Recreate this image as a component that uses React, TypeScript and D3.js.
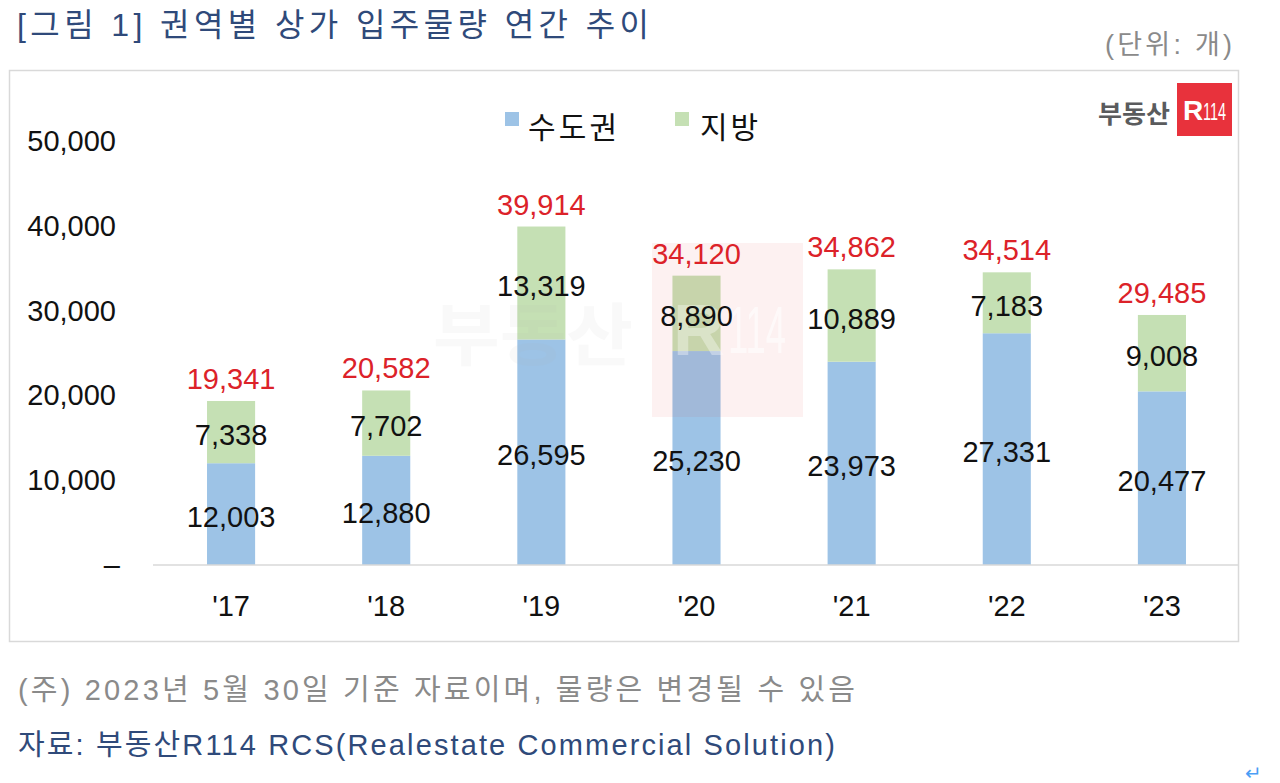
import React from "react";
import * as d3 from "d3";

const categories = ["'17", "'18", "'19", "'20", "'21", "'22", "'23"];
const metroValues = [12003, 12880, 26595, 25230, 23973, 27331, 20477];
const localValues = [7338, 7702, 13319, 8890, 10889, 7183, 9008];
const yTicks = [0, 10000, 20000, 30000, 40000, 50000];
const seriesNames = ["수도권", "지방"];

const BLUE = "#9dc3e6";
const GREEN = "#c5e0b4";
const RED = "#dc2229";
const FONT = "'Liberation Sans', 'Noto Sans CJK KR', sans-serif";

export default function App() {
  const W = 1280, H = 783;
  const x = d3.scaleBand<string>().domain(categories).range([153.5, 1239.5]).paddingInner(0.69).paddingOuter(0.345);
  const y = d3.scaleLinear().domain([0, 50000]).range([565, 141]);
  const fmt = d3.format(",");
  const totals = metroValues.map((m, i) => m + localValues[i]);
  const bw = x.bandwidth();

  return (
    <svg width={W} height={H} viewBox={`0 0 ${W} ${H}`} style={{ position: "absolute", left: 0, top: 0, background: "#fff" }} fontFamily={FONT}>
      <rect x={0} y={0} width={W} height={H} fill="#fff" />
      {/* Title */}
      <text x={17} y={25} dominantBaseline="central" fontSize={32} fill="#2f4a7a" textLength={632} lengthAdjust="spacing">[그림 1] 권역별 상가 입주물량 연간 추이</text>
      <text x={1105} y={45} dominantBaseline="central" fontSize={27} fill="#8a8a8a" textLength={127} lengthAdjust="spacing">(단위: 개)</text>

      {/* Frame */}
      <rect x={9.5} y={70.5} width={1229} height={571} fill="none" stroke="#d9d9d9" strokeWidth={1.5} />

      {/* Logo */}
      <text x={1134} y={112} textAnchor="middle" dominantBaseline="central" fontSize={25} fontWeight="bold" fill="#5a5b5d" fontFamily="'Noto Sans CJK KR', sans-serif" textLength={72} lengthAdjust="spacingAndGlyphs">부동산</text>
      <rect x={1177} y={83} width={55} height={53} fill="#e8323c" />
      <text x={1183} y={110} dominantBaseline="central" fontSize={28} fontWeight="bold" fill="#fff" fontFamily="'Liberation Sans', sans-serif">R</text>
      <text x={1203} y={111} dominantBaseline="central" fontSize={24} fill="#fff" fontFamily="'Liberation Sans Narrow', 'Liberation Sans', sans-serif" textLength={23} lengthAdjust="spacingAndGlyphs">114</text>

      {/* Legend */}
      <rect x={505} y={112} width={14} height={14} fill={BLUE} />
      <text x={528} y={127} dominantBaseline="central" fontSize={30} fill="#111" textLength={89} lengthAdjust="spacing">{seriesNames[0]}</text>
      <rect x={675} y={112} width={14} height={14} fill={GREEN} />
      <text x={700} y={127} dominantBaseline="central" fontSize={30} fill="#111" textLength={58} lengthAdjust="spacing">{seriesNames[1]}</text>

      {/* Y axis labels */}
      {yTicks.map((t) => (
        <text key={t} x={t === 0 ? 120 : 116} y={y(t)} textAnchor="end" dominantBaseline="central" fontSize={29} fill="#111">
          {t === 0 ? "–" : fmt(t)}
        </text>
      ))}

      {/* Bars */}
      {categories.map((c, i) => {
        const x0 = x(c)!;
        const m = metroValues[i];
        const l = localValues[i];
        return (
          <g key={c}>
            <rect x={x0} y={y(m)} width={bw} height={y(0) - y(m)} fill={BLUE} />
            <rect x={x0} y={y(m + l)} width={bw} height={y(m) - y(m + l)} fill={GREEN} />
          </g>
        );
      })}

      {/* Axis line */}
      <line x1={153} x2={1238} y1={y(0)} y2={y(0)} stroke="#d9d9d9" strokeWidth={1.5} />

      {/* Watermark */}
      <g pointerEvents="none">
        <text x={533} y={330} textAnchor="middle" dominantBaseline="central" fontSize={68} fontWeight="bold" fill="#b0b0b0" opacity={0.07} fontFamily="'Noto Sans CJK KR', sans-serif" textLength={200} lengthAdjust="spacingAndGlyphs">부동산</text>
        <rect x={652} y={243} width={151} height={174} fill="#e8323c" opacity={0.07} />
        <text x={673} y={330} dominantBaseline="central" fontSize={72} fontWeight="bold" fill="#fff" opacity={0.35} fontFamily="'Liberation Sans', sans-serif">R</text>
        <text x={728} y={330} dominantBaseline="central" fontSize={66} fill="#fff" opacity={0.6} fontFamily="'Liberation Sans', sans-serif" textLength={58} lengthAdjust="spacingAndGlyphs">114</text>
      </g>

      {/* Value labels */}
      {categories.map((c, i) => {
        const cx = x(c)! + bw / 2;
        const m = metroValues[i];
        const l = localValues[i];
        return (
          <g key={"lab" + c} fontSize={29}>
            <text x={cx} y={y(m / 2) + 3} textAnchor="middle" dominantBaseline="central" fill="#111">{fmt(m)}</text>
            <text x={cx} y={y(m + l / 2) + 3} textAnchor="middle" dominantBaseline="central" fill="#111">{fmt(l)}</text>
            <text x={cx} y={y(totals[i]) - 22} textAnchor="middle" dominantBaseline="central" fill={RED}>{fmt(totals[i])}</text>
          </g>
        );
      })}

      {/* X labels */}
      {categories.map((c) => (
        <text key={"x" + c} x={x(c)! + bw / 2} y={606} textAnchor="middle" dominantBaseline="central" fontSize={29} fill="#111">{c}</text>
      ))}

      {/* Footnotes */}
      <text x={18} y={690} dominantBaseline="central" fontSize={29} fill="#8a8a8a" textLength={837} lengthAdjust="spacing">(주) 2023년 5월 30일 기준 자료이며, 물량은 변경될 수 있음</text>
      <text x={18} y={745} dominantBaseline="central" fontSize={29} fill="#2f4a7a" textLength={817} lengthAdjust="spacing">자료: 부동산R114 RCS(Realestate Commercial Solution)</text>
      <text x={1245} y={773} dominantBaseline="central" fontSize={20} fill="#4a9ef5">↵</text>
    </svg>
  );
}
